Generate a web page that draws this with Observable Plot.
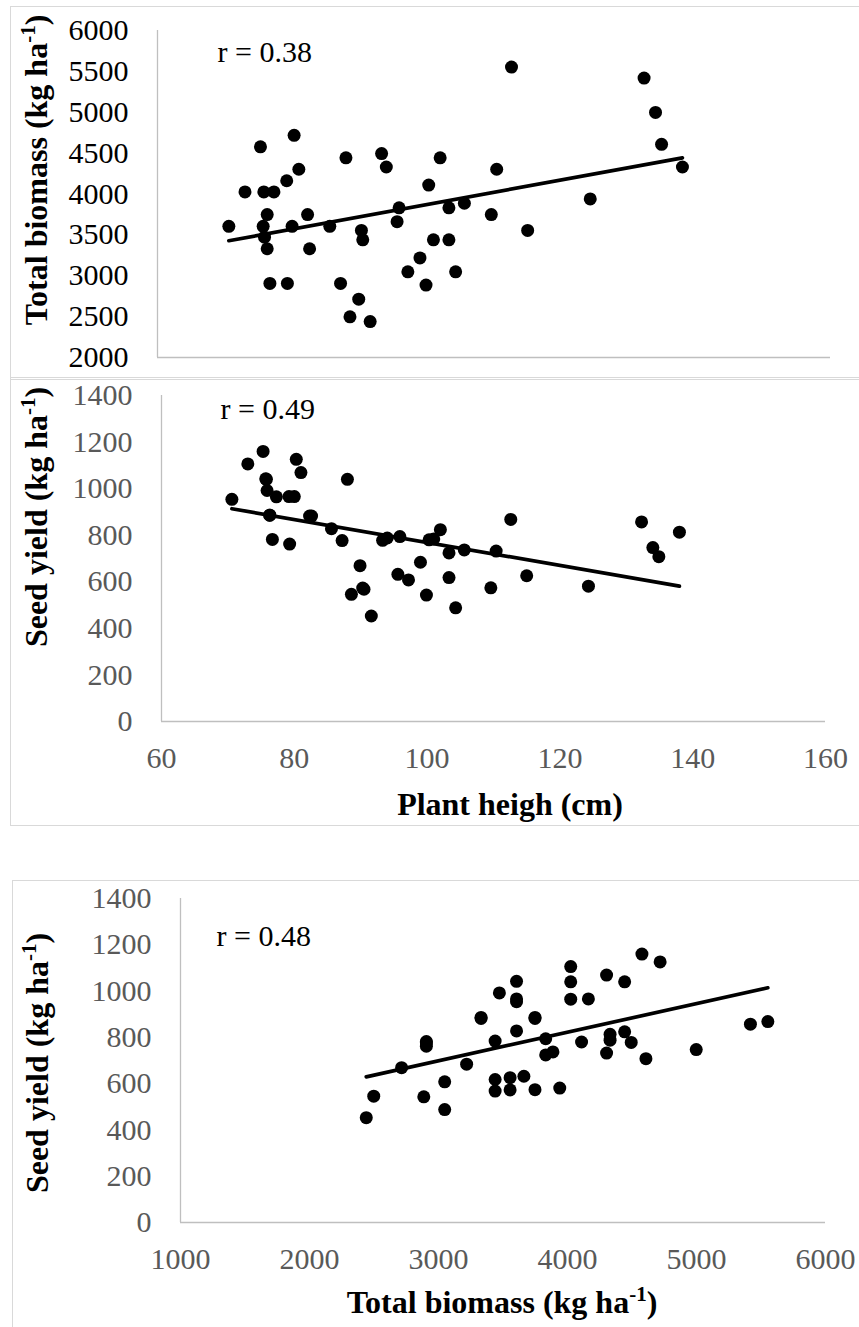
<!DOCTYPE html>
<html><head><meta charset="utf-8">
<script src="https://cdn.jsdelivr.net/npm/d3@7"></script>
<script src="https://cdn.jsdelivr.net/npm/@observablehq/plot@0.6"></script>
<style>
html,body{margin:0;padding:0;background:#fff;overflow:hidden;width:859px;height:1327px;}
.panel{position:absolute;left:0;}
.frame{position:absolute;border:1.3px solid #d9d9d9;pointer-events:none;z-index:2;}
</style></head><body>
<div id="p1" class="panel" style="top:0px"></div>
<div id="p2" class="panel" style="top:378px"></div>
<div id="p3" class="panel" style="top:881px"></div>
<div class="frame" style="left:10px;top:6px;width:900px;height:372px"></div>
<div class="frame" style="left:10px;top:377px;width:900px;height:447px"></div>
<div class="frame" style="left:12px;top:880px;width:900px;height:600px"></div>
<script>
// Plant height (cm), total biomass (kg/ha), seed yield (kg/ha) per plot
const plantHeight = [70.6,73.0,75.3,75.7,75.8,75.9,76.3,76.3,76.7,77.3,79.2,79.3,80.0,80.3,81.0,82.3,82.6,85.6,87.2,88.0,88.6,89.9,90.3,90.5,91.6,93.3,94.0,95.6,95.9,97.2,99.0,99.9,100.3,101.0,102.0,103.3,103.3,104.3,105.6,109.6,110.4,112.6,115.0,124.3,132.3,134.0,134.9,138.0];
const totalBiomass = [3605,4025,4577,3605,4025,3472,3748,3330,2906,4025,4162,2906,3605,4718,4303,3748,3330,3605,2906,4443,2498,2714,3555,3439,2440,4494,4330,3662,3831,3048,3218,2886,4109,3439,4443,3831,3439,3048,3887,3748,4303,5553,3555,3940,5418,4998,4608,4330];
const seedYield = [954,1106,1160,1042,1040,992,886,886,782,965,966,762,966,1126,1069,882,882,828,777,1040,546,669,573,568,453,778,788,632,794,608,684,543,780,784,824,724,618,488,737,574,732,868,626,581,857,747,708,813];

const heightTicks = [60,80,100,120,140,160];
const biomassTicks = [2000,2500,3000,3500,4000,4500,5000,5500,6000];
const seedTicks = [0,200,400,600,800,1000,1200,1400];
const biomassXTicks = [1000,2000,3000,4000,5000,6000];
const rLabels = ["r = 0.38","r = 0.49","r = 0.48"];

const data = plantHeight.map((h,i)=>({height:h, biomass:totalBiomass[i], seed:seedYield[i]}));
const FONT = "'Liberation Serif','Times New Roman',serif";
const AXIS = "#bfbfbf";

function make({h, mt, mb, ml, mr, xKey, yKey, xDom, yDom, xT, yT, showX, tickColor, r, rdx, rdy}) {
  return Plot.plot({
    width: 859, height: h,
    marginTop: mt, marginBottom: mb, marginLeft: ml, marginRight: mr,
    style: {fontFamily: FONT, fontSize: "30px", color: tickColor, background: "transparent", overflow: "visible"},
    x: showX ? {domain: xDom, ticks: xT, tickSize: 0, tickPadding: 25, tickFormat: d => String(d), label: null}
             : {domain: xDom, axis: null},
    y: {domain: yDom, ticks: yT, tickSize: 0, tickPadding: 29, tickFormat: d => String(d), label: null},
    marks: [
      Plot.ruleX([xDom[0]], {stroke: AXIS, strokeWidth: 1.3}),
      Plot.ruleY([yDom[0]], {stroke: AXIS, strokeWidth: 1.3}),
      Plot.dot(data, {x: xKey, y: yKey, r: 6.5, fill: "#000", stroke: "none"}),
      Plot.linearRegressionY(data, {x: xKey, y: yKey, ci: 0, stroke: "#000", strokeWidth: 3.7}),
      Plot.text([r], {text: d => d, frameAnchor: "top-left", textAnchor: "start", lineAnchor: "bottom", dx: rdx, dy: rdy, fill: "#000", fontSize: 30})
    ]
  });
}

function title(svg, {x, y, rotate, text, sup}) {
  const t = d3.select(svg).append("text")
    .attr("transform", `translate(${x},${y})` + (rotate ? " rotate(-90)" : ""))
    .attr("text-anchor", "middle").attr("font-weight", "bold").attr("font-size", 32)
    .attr("fill", "#000");
  t.append("tspan").text(text);
  t.append("tspan").attr("font-size", 21).attr("dy", -12).text(sup);
  t.append("tspan").attr("dy", 12).text(")");
}

function serif(svg) {
  d3.select(svg).selectAll("text").style("font-family", FONT);
}

const s1 = make({h: 378, mt: 30, mb: 21, ml: 157, mr: 29, xKey: "height", yKey: "biomass",
  xDom: [60,160], yDom: [2000,6000], xT: heightTicks, yT: biomassTicks, showX: false, tickColor: "#000",
  r: rLabels[0], rdx: 60, rdy: 31});
title(s1, {x: 47, y: 170, rotate: true, text: "Total biomass (kg ha", sup: "-1"});
serif(s1);
document.getElementById("p1").appendChild(s1);

const s2 = make({h: 448, mt: 17, mb: 105, ml: 161, mr: 34, xKey: "height", yKey: "seed",
  xDom: [60,160], yDom: [0,1400], xT: heightTicks, yT: seedTicks, showX: true, tickColor: "#595959",
  r: rLabels[1], rdx: 59, rdy: 23});
title(s2, {x: 47, y: 139, rotate: true, text: "Seed yield (kg ha", sup: "-1"});
d3.select(s2).append("text").attr("x", 510).attr("y", 437).attr("text-anchor", "middle")
  .attr("font-weight", "bold").attr("font-size", 32).attr("fill", "#000")
  .text("Plant heigh (cm)");
serif(s2);
document.getElementById("p2").appendChild(s2);

const s3 = make({h: 446, mt: 17, mb: 105, ml: 180, mr: 34, xKey: "biomass", yKey: "seed",
  xDom: [1000,6000], yDom: [0,1400], xT: biomassXTicks, yT: seedTicks, showX: true, tickColor: "#595959",
  r: rLabels[2], rdx: 36, rdy: 47});
title(s3, {x: 48, y: 182, rotate: true, text: "Seed yield (kg ha", sup: "-1"});
title(s3, {x: 502, y: 432, rotate: false, text: "Total biomass (kg ha", sup: "-1"});
serif(s3);
document.getElementById("p3").appendChild(s3);
</script>
</body></html>
